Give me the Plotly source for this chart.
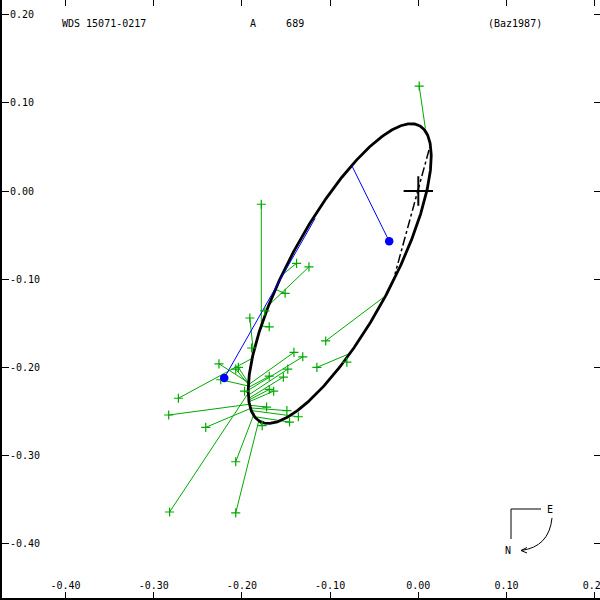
import numpy as np
import plotly.graph_objects as go

# ---- measurements (arcsec): observed positions and their computed positions on the orbit ----
obs_x = [0.001, -0.178, -0.138, -0.124, -0.151, -0.174, -0.191, -0.189, -0.169, -0.105, -0.115, -0.081,
         -0.141, -0.131, -0.148, -0.153, -0.169, -0.164, -0.169, -0.172, -0.149, -0.136, -0.146, -0.177,
         -0.197, -0.207, -0.204, -0.226, -0.224, -0.272, -0.283, -0.241, -0.207, -0.207, -0.282]
obs_y = [0.119, -0.015, -0.082, -0.086, -0.116, -0.136, -0.144, -0.178, -0.154, -0.170, -0.200, -0.194,
         -0.183, -0.188, -0.202, -0.211, -0.210, -0.227, -0.225, -0.245, -0.249, -0.256, -0.262, -0.266,
         -0.227, -0.202, -0.200, -0.196, -0.214, -0.235, -0.254, -0.268, -0.307, -0.365, -0.364]
pred_x = [0.008, -0.178, -0.153, -0.170, -0.161, -0.173, -0.187, -0.186, -0.178, -0.040, -0.077, -0.083,
          -0.193, -0.193, -0.192, -0.192, -0.193, -0.192, -0.192, -0.191, -0.190, -0.189, -0.185, -0.182,
          -0.193, -0.193, -0.193, -0.193, -0.193, -0.187, -0.193, -0.189, -0.186, -0.181, -0.192]
pred_y = [0.071, -0.153, -0.094, -0.130, -0.112, -0.137, -0.182, -0.182, -0.153, -0.121, -0.184, -0.191,
          -0.220, -0.226, -0.231, -0.235, -0.223, -0.239, -0.237, -0.243, -0.246, -0.249, -0.256, -0.260,
          -0.229, -0.219, -0.217, -0.217, -0.221, -0.189, -0.242, -0.246, -0.252, -0.261, -0.228]

# blue points with their orbit positions
blue_x = [-0.033, -0.220]
blue_y = [-0.057, -0.212]
blue_px = [-0.075, -0.117]
blue_py = [0.028, -0.031]

# apparent orbit ellipse (center, semi-axes, position angle of major axis)
ell_x0, ell_y0 = -0.0891, -0.0936
ell_a, ell_b = 0.1905, 0.0578
ell_theta = 61.66

# line of nodes end points
node_x = [0.0121, -0.0264]
node_y = [0.0465, -0.0941]

ticks = [-0.4, -0.3, -0.2, -0.1, 0.0, 0.1, 0.2]
tick_text = ["-0.40", "-0.30", "-0.20", "-0.10", "0.00", "0.10", "0.20"]

GREEN = "#00aa00"
FONT = "DejaVu Sans Mono"

t = np.linspace(0, 2 * np.pi, 500)
thr = np.radians(ell_theta)
ex = ell_x0 + ell_a * np.cos(t) * np.cos(thr) - ell_b * np.sin(t) * np.sin(thr)
ey = ell_y0 + ell_a * np.cos(t) * np.sin(thr) + ell_b * np.sin(t) * np.cos(thr)

fig = go.Figure()
lx, ly = [], []
for ox, oy, qx, qy in zip(obs_x, obs_y, pred_x, pred_y):
    lx += [ox, qx, None]
    ly += [oy, qy, None]
fig.add_trace(go.Scatter(x=lx, y=ly, mode="lines", line=dict(color=GREEN, width=1), hoverinfo="skip"))
fig.add_trace(go.Scatter(x=node_x, y=node_y, mode="lines",
                         line=dict(color="black", width=1.5, dash="dashdot")))
fig.add_trace(go.Scatter(x=ex, y=ey, mode="lines", line=dict(color="black", width=2.8)))
bx, by = [], []
for ox, oy, qx, qy in zip(blue_x, blue_y, blue_px, blue_py):
    bx += [ox, qx, None]
    by += [oy, qy, None]
fig.add_trace(go.Scatter(x=bx, y=by, mode="lines", line=dict(color="blue", width=1)))
fig.add_trace(go.Scatter(x=obs_x, y=obs_y, mode="markers",
                         marker=dict(symbol="cross-thin", size=6.5, line=dict(color=GREEN, width=1.2))))
fig.add_trace(go.Scatter(x=blue_x, y=blue_y, mode="markers", marker=dict(color="blue", size=8.5)))
fig.add_trace(go.Scatter(x=[0], y=[0], mode="markers",
                         marker=dict(symbol="cross-thin", size=21, line=dict(color="black", width=2))))
# dummy trace for mirrored tick axes
fig.add_trace(go.Scatter(x=[0], y=[0], xaxis="x2", yaxis="y2", mode="markers",
                         marker=dict(opacity=0), hoverinfo="skip"))


def px(x):
    return (x - 2) / 598.0


def py(y):
    return (598 - y) / 598.0


def text(x, y, s, anchor="left"):
    fig.add_annotation(x=px(x), y=py(y), xref="paper", yref="paper", text=s, showarrow=False,
                       xanchor=anchor, yanchor="middle", font=dict(family=FONT, size=10, color="black"))


text(60, 24, "WDS 15071-0217")
text(248, 24, "A     689")
text(486, 24, "(Baz1987)")
text(550, 509, "E", "center")
text(508, 550, "N", "center")

shapes = []
def seg(x1, y1, x2, y2):
    shapes.append(dict(type="line", xref="paper", yref="paper", x0=px(x1), y0=py(y1), x1=px(x2), y1=py(y2),
                       line=dict(color="black", width=1)))
seg(511, 509, 541, 509)
seg(511, 509, 511, 539)
seg(521, 550.5, 527, 547.5)
seg(521, 550.5, 527, 553)
shapes.append(dict(type="path", xref="paper", yref="paper",
                   path=f"M {px(552)},{py(518)} Q {px(549)},{py(547)} {px(521)},{py(550.5)}",
                   line=dict(color="black", width=1)))

fig.update_layout(width=600, height=600, margin=dict(l=2, r=0, t=0, b=2, autoexpand=False), showlegend=False,
                  plot_bgcolor="white", paper_bgcolor="white", shapes=shapes,
                  xaxis=dict(range=[-0.4720, 0.2060], tickvals=ticks, ticktext=tick_text, automargin=False,
                             ticks="inside", ticklen=6, tickcolor="black", showline=True, linewidth=2,
                             linecolor="black", ticklabelposition="inside", ticklabeloverflow="allow",
                             showgrid=False, zeroline=False,
                             tickfont=dict(family=FONT, size=10, color="black")),
                  yaxis=dict(range=[-0.4615, 0.2166], tickvals=ticks, ticktext=tick_text, automargin=False,
                             ticks="inside", ticklen=7, tickcolor="black", showline=True, linewidth=2,
                             linecolor="black", ticklabelposition="inside", ticklabeloverflow="allow",
                             showgrid=False, zeroline=False,
                             tickfont=dict(family=FONT, size=10, color="black")),
                  xaxis2=dict(range=[-0.4720, 0.2060], tickvals=ticks, overlaying="x", side="top",
                              anchor="y2", ticks="inside", ticklen=6, tickcolor="black", automargin=False,
                              showticklabels=False, showline=False, showgrid=False, zeroline=False),
                  yaxis2=dict(range=[-0.4615, 0.2166], tickvals=ticks, overlaying="y", side="right",
                              anchor="x2", ticks="inside", ticklen=6, tickcolor="black", automargin=False,
                              showticklabels=False, showline=False, showgrid=False, zeroline=False))
fig.write_html("out.html", config={"displayModeBar": False, "responsive": False},
               post_script="document.body.style.margin='0';document.body.style.overflow='hidden';")
